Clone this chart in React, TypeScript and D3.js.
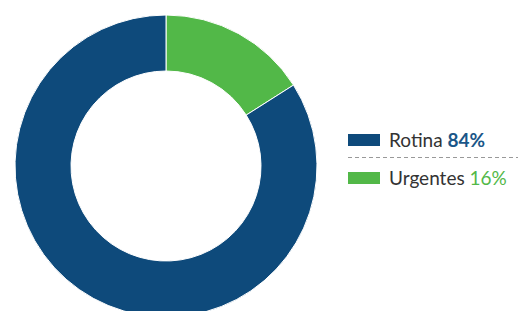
import { useEffect, useRef } from 'react';
import * as d3 from 'd3';

const labels = ['Urgentes', 'Rotina'];
const values = [16, 84];
const colours = ['#52b848', '#0e4a7b'];
const pctColours = ['#52b848', '#1a5688'];

const W = 518;
const H = 311;

export default function App() {
  const svgRef = useRef<SVGSVGElement>(null);

  useEffect(() => {
    if (!svgRef.current) return;
    const svg = d3.select(svgRef.current);
    svg.selectAll('*').remove();

    const cx = 166;
    const cy = 166;
    const pie = d3.pie<number>().sort(null).value((d) => d);
    const arc = d3.arc<d3.PieArcDatum<number>>().innerRadius(95).outerRadius(151);

    const g = svg.append('g').attr('transform', `translate(${cx},${cy})`);
    g.selectAll('path')
      .data(pie(values))
      .join('path')
      .attr('d', arc)
      .attr('fill', (_, i) => colours[i])
      .attr('stroke', '#fff')
      .attr('stroke-width', 1);

    // Legend (Rotina first)
    const order = [1, 0];
    const lg = svg.append('g');
    order.forEach((idx, row) => {
      const y = 140 + row * 38;
      lg.append('rect')
        .attr('x', 348)
        .attr('y', y - 6)
        .attr('width', 32)
        .attr('height', 12)
        .attr('fill', colours[idx]);
      const t = lg.append('text')
        .attr('x', 389)
        .attr('y', y + 6.5)
        .attr('font-family', 'Lato, sans-serif')
        .attr('font-size', 19)
        .attr('fill', '#333');
      t.append('tspan').text(labels[idx] + ' ');
      t.append('tspan')
        .attr('fill', pctColours[idx])
        .attr('font-weight', idx === 1 ? 700 : 400)
        .text(`${values[idx]}%`);
    });

    lg.append('line')
      .attr('x1', 348)
      .attr('x2', W)
      .attr('y1', 157.5)
      .attr('y2', 157.5)
      .attr('stroke', '#999')
      .attr('stroke-width', 1)
      .attr('stroke-dasharray', '4 3');
  }, []);

  return (
    <svg
      ref={svgRef}
      width={W}
      height={H}
      style={{ position: 'absolute', left: 0, top: 0, background: '#fff' }}
    />
  );
}
